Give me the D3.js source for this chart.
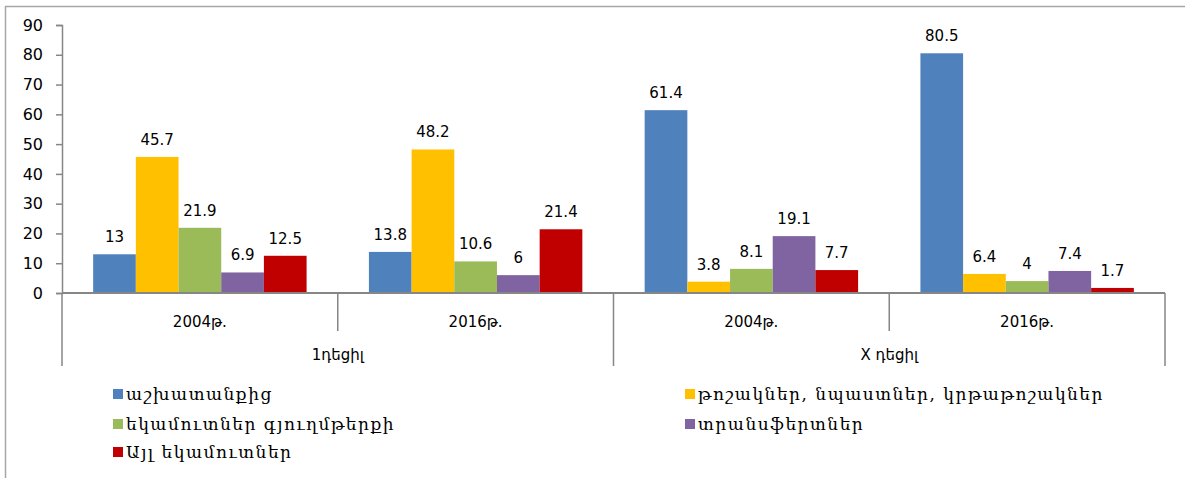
<!DOCTYPE html>
<html>
<head>
<meta charset="utf-8">
<script src="https://cdn.jsdelivr.net/npm/d3@7"></script>
<style>
  body { margin: 0; background: #fff; }
  svg { display: block; }
</style>
</head>
<body>
<div id="chart"></div>
<script>
// Datos del gráfico
const groups = ['1դեցիլ', 'X դեցիլ'];
const years = ['2004թ.', '2016թ.'];
const series = [
  'աշխատանքից',
  'թոշակներ, նպաստներ, կրթաթոշակներ',
  'եկամուտներ գյուղմթերքի',
  'տրանսֆերտներ',
  'Այլ եկամուտներ'
];
const colors = ['#4F81BD', '#FFC000', '#9BBB59', '#8064A2', '#C00000'];
// valores por categoría (grupo/año), en orden de series
const values1_2004 = [13, 45.7, 21.9, 6.9, 12.5];
const values1_2016 = [13.8, 48.2, 10.6, 6, 21.4];
const valuesX_2004 = [61.4, 3.8, 8.1, 19.1, 7.7];
const valuesX_2016 = [80.5, 6.4, 4, 7.4, 1.7];
const yTicks = [0, 10, 20, 30, 40, 50, 60, 70, 80, 90];

const cats = [
  { group: groups[0], year: years[0], values: values1_2004 },
  { group: groups[0], year: years[1], values: values1_2016 },
  { group: groups[1], year: years[0], values: valuesX_2004 },
  { group: groups[1], year: years[1], values: valuesX_2016 }
];
cats.forEach((c, i) => c.key = 'c' + i);

const width = 1185;
const height = 478;
const axisColor = '#868686';

const svg = d3.select('#chart')
  .append('svg')
  .attr('width', width)
  .attr('height', height);

// Borde del gráfico
svg.append('rect')
  .attr('x', 5.5).attr('y', 6.5)
  .attr('width', 1200).attr('height', 500)
  .attr('fill', 'none')
  .attr('stroke', '#a6a6a6')
  .attr('stroke-width', 1.5);

const x0 = d3.scaleBand()
  .domain(cats.map(c => c.key))
  .range([62, 1165])
  .padding(0);

const x1 = d3.scaleBand()
  .domain(series)
  .range([0, x0.bandwidth()])
  .paddingInner(0)
  .paddingOuter(0.73);

const y = d3.scaleLinear()
  .domain([0, 90])
  .range([293, 25]);

// Barras
const cat = svg.selectAll('g.cat')
  .data(cats)
  .enter()
  .append('g')
  .attr('class', 'cat')
  .attr('transform', d => `translate(${x0(d.key)},0)`);

cat.selectAll('rect')
  .data(d => d.values.map((v, i) => ({ s: series[i], v, i })))
  .enter()
  .append('rect')
  .attr('x', d => x1(d.s))
  .attr('y', d => y(d.v))
  .attr('width', x1.bandwidth())
  .attr('height', d => y(0) - y(d.v))
  .attr('fill', d => colors[d.i]);

cat.selectAll('text.val')
  .data(d => d.values.map((v, i) => ({ s: series[i], v, i })))
  .enter()
  .append('text')
  .attr('class', 'val')
  .attr('x', d => x1(d.s) + x1.bandwidth() / 2)
  .attr('y', d => y(d.v) - 12)
  .attr('text-anchor', 'middle')
  .attr('font-family', 'Verdana, "DejaVu Sans", sans-serif')
  .attr('font-size', 15)
  .attr('fill', '#000')
  .text(d => d.v);

// Eje Y
const yAxis = svg.append('g')
  .attr('transform', `translate(62,0)`)
  .call(d3.axisLeft(y).tickValues(yTicks).tickSize(6).tickPadding(13));
yAxis.select('.domain').attr('stroke', axisColor).attr('stroke-width', 1.5);
yAxis.selectAll('.tick line').attr('stroke', axisColor).attr('stroke-width', 1.5);
yAxis.selectAll('.tick text')
  .attr('font-family', '"DejaVu Sans", sans-serif')
  .attr('font-size', 16)
  .attr('fill', '#000');

// Eje X (línea base y separadores)
svg.append('line')
  .attr('x1', 62).attr('x2', 1165)
  .attr('y1', y(0)).attr('y2', y(0))
  .attr('stroke', axisColor).attr('stroke-width', 2);

const bounds = cats.map(c => x0(c.key)).concat([x0.range()[1]]);
svg.selectAll('line.sep')
  .data(bounds)
  .enter()
  .append('line')
  .attr('class', 'sep')
  .attr('x1', d => d).attr('x2', d => d)
  .attr('y1', y(0))
  .attr('y2', (d, i) => (i % 2 === 0 ? 366 : 331))
  .attr('stroke', axisColor)
  .attr('stroke-width', 1.5);

svg.selectAll('text.year')
  .data(cats)
  .enter()
  .append('text')
  .attr('class', 'year')
  .attr('x', d => x0(d.key) + x0.bandwidth() / 2)
  .attr('y', 327)
  .attr('text-anchor', 'middle')
  .attr('font-family', 'Verdana, "DejaVu Sans", sans-serif')
  .attr('font-size', 15)
  .text(d => d.year);

svg.selectAll('text.group')
  .data(groups)
  .enter()
  .append('text')
  .attr('class', 'group')
  .attr('x', (d, i) => x0(cats[i * 2].key) + x0.bandwidth())
  .attr('y', 360)
  .attr('text-anchor', 'middle')
  .attr('font-family', 'Verdana, "DejaVu Sans", sans-serif')
  .attr('font-size', 15)
  .text(d => d);

// Leyenda
const legendPos = [[113, 395], [685, 395], [113, 425], [685, 425], [113, 453]];
const legend = svg.selectAll('g.legend')
  .data(series)
  .enter()
  .append('g')
  .attr('class', 'legend')
  .attr('transform', (d, i) => `translate(${legendPos[i][0]},${legendPos[i][1]})`);

legend.append('rect')
  .attr('x', 0).attr('y', -6)
  .attr('width', 10).attr('height', 10)
  .attr('fill', (d, i) => colors[i]);

legend.append('text')
  .attr('x', 13)
  .attr('y', 5)
  .attr('font-family', '"DejaVu Serif", serif')
  .attr('font-size', 17)
  .attr('letter-spacing', 1.5)
  .text(d => d);
</script>
</body>
</html>
